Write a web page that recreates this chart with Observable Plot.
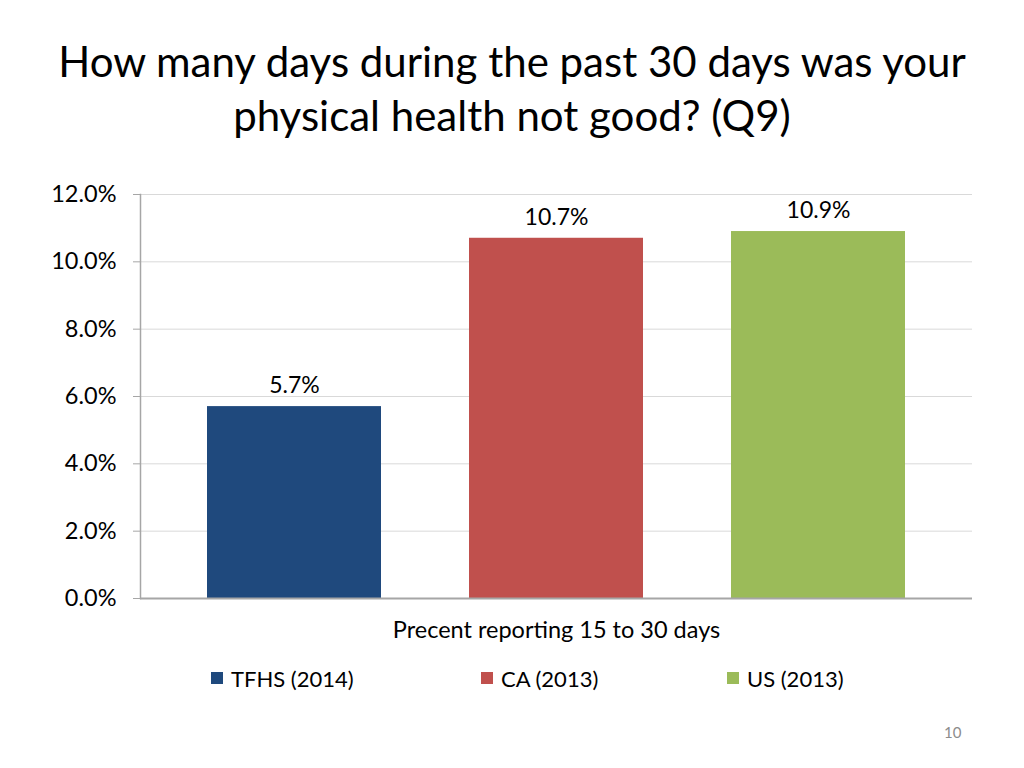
<!DOCTYPE html>
<html>
<head>
<meta charset="utf-8">
<script src="https://cdn.jsdelivr.net/npm/d3@7"></script>
<script src="https://cdn.jsdelivr.net/npm/@observablehq/plot@0.6"></script>
<style>
  html, body { margin: 0; padding: 0; background: #fff; }
  body { width: 1024px; height: 768px; position: relative; overflow: hidden; font-family: Lato, "Open Sans", sans-serif; color: #000; }
  #title { position: absolute; left: 0; top: 34px; width: 1024px; text-align: center; font-size: 42px; line-height: 54px; }
  #chart { position: absolute; left: 0; top: 170px; }
  #legend { position: absolute; top: 664px; left: 0; width: 1024px; height: 28px; font-size: 22px; }
  .item { position: absolute; top: 0; display: flex; align-items: center; height: 28px; }
  .sw { width: 12px; height: 12px; margin-right: 8px; }
  #page { position: absolute; left: 944px; top: 723px; font-size: 15px; color: #8c8c8c; }
</style>
</head>
<body>
<div id="title">How many days during the past 30 days was your<br>physical health not good? (Q9)</div>
<div id="chart"></div>
<div id="legend"></div>
<div id="page">10</div>
<script>
const series = ["TFHS (2014)", "CA (2013)", "US (2013)"];
const values = [0.057, 0.107, 0.109];
const colors = ["#1F497D", "#C0504D", "#9BBB59"];
const yTicks = [0, 0.02, 0.04, 0.06, 0.08, 0.10, 0.12];
const xLabel = "Precent reporting 15 to 30 days";
const legendX = [211, 481, 727];

const data = series.map((s, i) => ({series: s, value: values[i]}));

const chart = Plot.plot({
  width: 1024,
  height: 480,
  marginLeft: 140,
  marginRight: 52,
  marginTop: 24,
  marginBottom: 52,
  style: {fontFamily: "Lato, 'Open Sans', sans-serif", fontSize: "23px", color: "#000", background: "#fff"},
  x: {domain: series, paddingInner: 0.335, paddingOuter: 0.251, axis: null},
  y: {domain: [0, 0.12]},
  color: {domain: series, range: colors},
  marks: [
    Plot.gridY(yTicks, {stroke: "#d9d9d9", strokeOpacity: 1, strokeWidth: 1}),
    Plot.axisY(yTicks, {tickFormat: d3.format(".1%"), tickSize: 7, tickPadding: 17, stroke: "#a6a6a6", label: null, fontSize: 23.5, fill: "#000"}),
    Plot.barY(data, {x: "series", y: "value", fill: "series"}),
    Plot.ruleY([0], {stroke: "#a6a6a6", strokeWidth: 2}),
    Plot.frame({anchor: "left", stroke: "#a6a6a6", strokeWidth: 1.5}),
    Plot.text(data, {x: "series", y: "value", text: d => d3.format(".1%")(d.value), dy: -21, fill: "#000", fontSize: 23}),
    Plot.text([xLabel], {frameAnchor: "bottom", dy: 39, fill: "#000", fontSize: 23.5})
  ]
});
document.getElementById("chart").appendChild(chart);

const legend = document.getElementById("legend");
series.forEach((s, i) => {
  const item = document.createElement("div");
  item.className = "item";
  item.style.left = legendX[i] + "px";
  item.innerHTML = `<span class="sw" style="background:${colors[i]}"></span><span>${s}</span>`;
  legend.appendChild(item);
});
</script>
</body>
</html>
